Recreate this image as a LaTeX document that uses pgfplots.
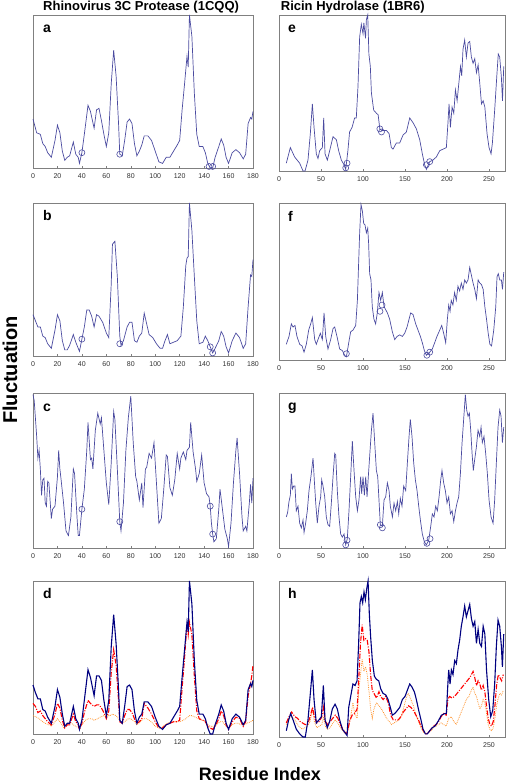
\documentclass[border=0pt]{standalone}
\usepackage{fontspec}
\setmainfont{Liberation Sans}
\usepackage{pgfplots}
\pgfplotsset{compat=1.18}
\definecolor{lineblue}{RGB}{75,75,160}
\definecolor{navyblue}{RGB}{0,0,128}
\definecolor{dotorange}{RGB}{255,150,50}
\definecolor{ticklab}{RGB}{50,50,50}
\tikzset{lab/.style={font=\fontsize{14}{16}\selectfont\bfseries, anchor=base west, inner sep=0pt}}
\begin{document}
\begin{tikzpicture}
\useasboundingbox (0,0) rectangle (506pt,784pt);
\pgfplotsset{
 panel/.style={scale only axis, anchor=south west, ymin=0, ymax=1, ytick=\empty,
   axis line style={gray, line width=0.6pt}, xtick pos=left, tick align=inside,
   major tick length=2pt, tick style={gray, line width=0.5pt},
   clip=false, xticklabel style={font=\fontsize{7}{8}\selectfont, text=ticklab, yshift=-2pt},
   /pgf/number format/assume math mode=true},
 leftp/.style={panel, xmin=0, xmax=180, width=220pt, xtick={0,20,...,180}},
 rightp/.style={panel, xmin=0, xmax=269, width=226pt, xtick={0,50,...,250}},
 trace/.style={lineblue, line width=0.7pt, no markers},
 circ/.style={only marks, mark=o, mark size=3pt, mark options={draw=lineblue, fill=white, line width=0.6pt}},
}
% ---------- a ----------
\begin{axis}[leftp, at={(33pt,616pt)}, height=153pt]
\addplot[trace] coordinates {(0,0.32)(3,0.23)(6,0.22)(8,0.16)(10,0.14)(12,0.10)(15,0.07)(18,0.18)(20,0.28)(22,0.23)(24,0.11)(26,0.05)(28,0.07)(30,0.08)(33,0.17)(35,0.09)(37,0.07)(38,0.03)(40,0.10)(42,0.22)(45,0.41)(47,0.37)(50,0.26)(52,0.38)(54,0.39)(56,0.31)(58,0.22)(60,0.14)(62,0.23)(64,0.55)(66,0.77)(68,0.60)(70,0.29)(71,0.09)(73,0.08)(75,0.18)(77,0.30)(79,0.32)(81,0.29)(83,0.16)(85,0.08)(87,0.11)(89,0.15)(91,0.21)(94,0.21)(97,0.18)(100,0.11)(103,0.04)(106,0.03)(109,0.07)(112,0.07)(115,0.11)(118,0.15)(120,0.18)(122,0.38)(124,0.55)(126,0.73)(127,0.66)(128,1.0)(130,0.86)(132,0.49)(134,0.22)(136,0.14)(139,0.14)(141,0.10)(143,0.03)(145,0.0)(147,0.0)(149,0.07)(152,0.14)(154,0.19)(156,0.15)(158,0.07)(160,0.03)(163,0.10)(166,0.12)(169,0.10)(172,0.06)(174,0.09)(176,0.29)(178,0.33)(179,0.32)(180,0.37)};
\addplot[circ] coordinates {(40,0.10)(71,0.09)(144,0.01)(147,0.01)};
\node[lab] at (rel axis cs:0.045,0.883) {a};
\end{axis}
% ---------- b ----------
\begin{axis}[leftp, at={(33pt,428pt)}, height=153pt]
\addplot[trace] coordinates {(0,0.27)(2,0.23)(4,0.19)(6,0.19)(8,0.13)(10,0.12)(12,0.08)(15,0.05)(18,0.17)(20,0.27)(22,0.23)(24,0.10)(26,0.04)(28,0.04)(30,0.07)(33,0.14)(35,0.09)(37,0.05)(38,0.03)(40,0.11)(42,0.19)(44,0.30)(46,0.30)(48,0.26)(50,0.19)(52,0.27)(54,0.26)(57,0.22)(60,0.15)(62,0.12)(64,0.47)(65,0.73)(67,0.75)(69,0.52)(71,0.13)(72,0.07)(74,0.10)(77,0.19)(79,0.22)(81,0.22)(83,0.10)(85,0.09)(87,0.13)(89,0.15)(91,0.28)(93,0.21)(95,0.14)(98,0.12)(101,0.08)(104,0.05)(106,0.05)(108,0.10)(110,0.14)(112,0.08)(115,0.09)(118,0.10)(121,0.13)(123,0.32)(125,0.59)(126,0.64)(127,0.65)(128,1.0)(130,0.82)(132,0.52)(134,0.23)(136,0.08)(139,0.09)(141,0.13)(143,0.10)(145,0.06)(147,0.02)(149,0.05)(152,0.10)(154,0.16)(156,0.13)(158,0.06)(160,0.02)(163,0.10)(166,0.15)(169,0.12)(172,0.05)(174,0.08)(176,0.32)(178,0.53)(179,0.52)(180,0.63)};
\addplot[circ] coordinates {(40,0.11)(71,0.08)(145,0.06)(147,0.02)};
\node[lab] at (rel axis cs:0.045,0.883) {b};
\end{axis}
% ---------- c ----------
\begin{axis}[leftp, at={(33pt,236pt)}, height=155pt]
\addplot[trace] coordinates {(0,0.99)(1,0.95)(3,0.72)(4,0.58)(5,0.63)(6,0.51)(7,0.34)(8,0.44)(9,0.45)(10,0.29)(11,0.27)(12,0.43)(13,0.42)(15,0.19)(16,0.25)(18,0.27)(20,0.46)(21,0.63)(22,0.51)(23,0.44)(25,0.29)(27,0.11)(29,0.08)(31,0.20)(33,0.51)(34,0.48)(36,0.20)(37,0.08)(38,0.08)(40,0.25)(42,0.38)(44,0.63)(45,0.81)(47,0.57)(48,0.58)(49,0.51)(51,0.76)(53,0.87)(55,0.80)(56,0.84)(58,0.63)(60,0.42)(62,0.28)(64,0.55)(66,0.88)(67,0.83)(69,0.51)(71,0.17)(72,0.11)(74,0.29)(76,0.63)(78,0.84)(80,0.98)(82,0.68)(84,0.46)(85,0.43)(87,0.31)(89,0.42)(90,0.26)(92,0.51)(93,0.52)(95,0.61)(97,0.58)(99,0.68)(101,0.42)(103,0.16)(105,0.19)(107,0.38)(109,0.60)(110,0.59)(112,0.39)(114,0.34)(116,0.44)(118,0.61)(120,0.51)(121,0.58)(123,0.62)(125,0.57)(126,0.63)(128,0.65)(129,0.81)(131,0.62)(133,0.51)(134,0.43)(136,0.48)(138,0.60)(140,0.42)(142,0.35)(144,0.33)(145,0.27)(146,0.16)(147,0.09)(148,0.04)(150,0.06)(152,0.25)(153,0.38)(155,0.25)(157,0.12)(159,0.06)(160,0.01)(162,0.16)(164,0.42)(166,0.63)(167,0.71)(169,0.48)(171,0.20)(172,0.11)(174,0.14)(175,0.11)(177,0.29)(178,0.41)(179,0.29)(180,0.45)};
\addplot[circ] coordinates {(40,0.25)(71,0.17)(145,0.27)(147,0.09)};
\node[lab] at (rel axis cs:0.045,0.883) {c};
\end{axis}
% ---------- d ----------
\begin{axis}[leftp, at={(33pt,50pt)}, height=153pt]
\addplot[dotorange, densely dotted, line width=0.8pt] coordinates {(0,0.12)(3,0.11)(5,0.10)(8,0.08)(10,0.07)(13,0.06)(15,0.05)(18,0.08)(20,0.10)(23,0.07)(25,0.04)(28,0.06)(30,0.08)(33,0.06)(35,0.05)(38,0.04)(40,0.06)(43,0.09)(45,0.10)(48,0.10)(50,0.09)(53,0.10)(55,0.11)(58,0.12)(60,0.12)(63,0.12)(65,0.13)(68,0.12)(70,0.10)(73,0.07)(75,0.08)(78,0.10)(80,0.10)(83,0.08)(85,0.06)(88,0.08)(90,0.10)(93,0.10)(95,0.09)(98,0.07)(100,0.05)(103,0.04)(105,0.04)(108,0.06)(110,0.07)(113,0.08)(115,0.08)(118,0.08)(120,0.08)(123,0.09)(125,0.10)(128,0.12)(130,0.12)(133,0.11)(135,0.10)(138,0.09)(140,0.09)(143,0.06)(145,0.05)(148,0.05)(150,0.06)(153,0.08)(155,0.08)(158,0.05)(160,0.04)(163,0.06)(165,0.07)(168,0.07)(170,0.06)(173,0.06)(175,0.07)(178,0.08)(180,0.09)};
\addplot[red, line width=1.1pt, dash pattern=on 5pt off 1.5pt on 1pt off 1.5pt] coordinates {(0,0.20)(2,0.18)(4,0.14)(6,0.15)(8,0.12)(10,0.10)(12,0.08)(15,0.06)(18,0.13)(20,0.20)(22,0.17)(24,0.09)(26,0.04)(28,0.06)(30,0.06)(33,0.13)(35,0.08)(37,0.06)(38,0.03)(40,0.07)(42,0.14)(45,0.22)(47,0.20)(50,0.18)(52,0.19)(54,0.19)(56,0.17)(58,0.14)(60,0.10)(62,0.15)(64,0.40)(66,0.55)(68,0.45)(70,0.22)(71,0.08)(73,0.07)(75,0.12)(77,0.16)(79,0.16)(81,0.14)(83,0.10)(85,0.07)(87,0.08)(89,0.10)(91,0.20)(94,0.17)(97,0.13)(100,0.08)(103,0.04)(106,0.04)(109,0.06)(112,0.07)(115,0.08)(118,0.08)(120,0.09)(122,0.30)(124,0.50)(126,0.72)(127,0.65)(128,0.73)(130,0.65)(132,0.38)(134,0.15)(136,0.10)(139,0.09)(141,0.08)(143,0.05)(145,0.04)(147,0.03)(149,0.05)(152,0.10)(154,0.15)(156,0.12)(158,0.06)(160,0.03)(163,0.08)(166,0.11)(169,0.10)(172,0.05)(174,0.08)(176,0.25)(178,0.33)(179,0.38)(180,0.45)};
\addplot[navyblue, line width=1.1pt] coordinates {(0,0.32)(2,0.27)(4,0.23)(6,0.23)(8,0.16)(10,0.15)(12,0.11)(15,0.07)(18,0.18)(20,0.29)(22,0.24)(24,0.13)(26,0.05)(28,0.07)(30,0.07)(33,0.18)(35,0.10)(37,0.07)(38,0.03)(40,0.09)(42,0.22)(45,0.42)(47,0.37)(50,0.25)(52,0.38)(54,0.38)(56,0.35)(58,0.22)(60,0.12)(62,0.22)(64,0.57)(66,0.78)(68,0.59)(70,0.29)(71,0.09)(73,0.07)(75,0.18)(77,0.31)(79,0.32)(81,0.29)(83,0.15)(85,0.07)(87,0.11)(89,0.13)(91,0.21)(94,0.21)(97,0.18)(100,0.11)(103,0.05)(106,0.03)(109,0.06)(112,0.07)(115,0.11)(118,0.15)(120,0.18)(122,0.37)(124,0.55)(126,0.73)(127,0.67)(128,1.0)(130,0.85)(132,0.48)(134,0.22)(136,0.13)(139,0.13)(141,0.10)(143,0.04)(145,0.0)(147,0.0)(149,0.06)(152,0.13)(154,0.19)(156,0.15)(158,0.07)(160,0.03)(163,0.10)(166,0.13)(169,0.11)(172,0.06)(174,0.09)(176,0.29)(178,0.33)(179,0.31)(180,0.35)};
\node[lab] at (rel axis cs:0.045,0.883) {d};
\end{axis}
% ---------- e ----------
\begin{axis}[rightp, at={(279pt,613pt)}, height=156pt]
\addplot[trace] coordinates {(8.7,0.05)(13.5,0.15)(18.6,0.09)(24.6,0.05)(28.6,0.0)(31,0.0)(34.5,0.07)(37.3,0.24)(39.7,0.43)(41.7,0.28)(44.4,0.11)(46.4,0.08)(48.4,0.13)(51.6,0.15)(53.2,0.34)(54.8,0.11)(57.5,0.07)(60.3,0.13)(64.3,0.22)(68.3,0.20)(71,0.13)(74.2,0.07)(77.4,0.04)(79.4,0.01)(82,0.13)(84,0.25)(87,0.28)(90,0.34)(92,0.34)(94,0.54)(96,0.86)(98,0.94)(100,0.88)(101,0.95)(103,0.85)(104,0.97)(105.6,1.0)(107,0.75)(108.7,0.67)(110,0.50)(112.7,0.39)(116,0.37)(118,0.36)(120,0.27)(122.2,0.26)(124.6,0.26)(127.8,0.26)(131,0.24)(133.7,0.15)(135.7,0.14)(139.7,0.18)(143.7,0.18)(147.6,0.23)(151.6,0.25)(155.6,0.34)(159.5,0.31)(163.5,0.27)(167.5,0.20)(170.6,0.11)(173.4,0.04)(175.4,0.01)(179.4,0.06)(183.3,0.07)(187.3,0.09)(191.3,0.13)(195.2,0.14)(199.2,0.15)(201,0.30)(202.4,0.43)(204,0.28)(206,0.41)(208,0.37)(210,0.52)(212,0.45)(214,0.56)(216,0.67)(217.5,0.61)(219,0.78)(221,0.84)(223,0.73)(225,0.82)(227,0.83)(229,0.73)(231,0.69)(233,0.72)(235,0.63)(237,0.68)(239,0.56)(241,0.43)(243,0.45)(245,0.41)(247.6,0.24)(250,0.15)(252.4,0.11)(254,0.18)(256.7,0.39)(259.5,0.63)(261,0.75)(262.7,0.73)(264.7,0.60)(266,0.45)(267.5,0.67)};
\addplot[circ] coordinates {(79.4,0.02)(81,0.05)(120,0.27)(122,0.25)(175.4,0.04)(179.4,0.06)};
\node[lab] at (rel axis cs:0.04,0.885) {e};
\end{axis}
% ---------- f ----------
\begin{axis}[rightp, at={(279pt,424pt)}, height=157pt]
\addplot[trace] coordinates {(8.7,0.10)(11.9,0.15)(14.7,0.23)(16.7,0.21)(19,0.22)(21.4,0.15)(24.6,0.10)(27.4,0.09)(29.8,0.05)(32.5,0.10)(35.3,0.19)(37.7,0.23)(39.7,0.27)(42.5,0.13)(44.4,0.10)(46.4,0.13)(49.2,0.17)(51.6,0.13)(53.6,0.30)(55.6,0.15)(58.3,0.07)(61.5,0.13)(64.3,0.20)(66.3,0.21)(69,0.15)(72.2,0.07)(75.4,0.06)(78.2,0.03)(80.2,0.02)(83,0.11)(85.3,0.18)(88,0.19)(91.3,0.22)(93.3,0.38)(94.8,0.62)(96,0.81)(97.6,0.99)(99.2,0.95)(100.8,0.87)(102.4,0.86)(104,0.81)(105.6,0.84)(106.7,0.74)(107.9,0.55)(109.5,0.51)(111,0.34)(113,0.26)(115,0.23)(117,0.30)(119,0.43)(121,0.38)(123,0.43)(125,0.34)(127,0.32)(129,0.30)(131.7,0.26)(134.9,0.18)(137.7,0.13)(140.5,0.15)(143.7,0.16)(146.8,0.15)(149.6,0.17)(152.4,0.21)(154.8,0.26)(156.7,0.30)(159.5,0.29)(162.7,0.23)(165.5,0.19)(168.3,0.15)(170.6,0.11)(173,0.06)(175.4,0.03)(179.4,0.05)(182.5,0.07)(185.3,0.11)(188,0.15)(191.3,0.19)(193.7,0.22)(196,0.17)(198.4,0.11)(200.4,0.26)(202,0.35)(203.6,0.31)(205,0.38)(207,0.35)(209,0.43)(211,0.38)(213,0.47)(215,0.44)(217,0.49)(219,0.45)(221,0.51)(223,0.49)(225,0.51)(227,0.59)(229,0.54)(231,0.49)(233,0.45)(235,0.39)(237,0.51)(239,0.49)(241,0.48)(243,0.45)(245,0.34)(247,0.26)(249,0.17)(251,0.10)(253,0.09)(255.6,0.19)(258,0.34)(259.5,0.53)(261,0.55)(262.7,0.51)(264.7,0.51)(266,0.45)(267.5,0.56)};
\addplot[circ] coordinates {(80.2,0.04)(120.2,0.31)(122.6,0.35)(176,0.03)(179.4,0.05)};
\node[lab] at (rel axis cs:0.04,0.885) {f};
\end{axis}
% ---------- g ----------
\begin{axis}[rightp, at={(279pt,236pt)}, height=155pt]
\addplot[trace] coordinates {(8.7,0.20)(10.3,0.23)(11.9,0.30)(13.5,0.34)(14.7,0.48)(15.9,0.38)(17.5,0.40)(19,0.40)(20.6,0.24)(22.6,0.27)(24.6,0.16)(26.6,0.13)(28.6,0.18)(29.8,0.10)(31.7,0.16)(33.7,0.24)(35.7,0.37)(38,0.46)(40.5,0.58)(42,0.44)(43.7,0.29)(45.6,0.16)(47.6,0.27)(49.6,0.33)(50.8,0.44)(52.4,0.40)(54.4,0.33)(56.3,0.20)(58.3,0.15)(60.3,0.14)(62.3,0.29)(64.3,0.46)(66.3,0.61)(67.5,0.60)(69.4,0.37)(71.4,0.20)(73.4,0.09)(75.4,0.07)(77.4,0.09)(79.4,0.02)(81.3,0.06)(83.3,0.24)(85.3,0.46)(87.3,0.69)(89.3,0.50)(91.3,0.33)(93.3,0.24)(95.2,0.31)(97.2,0.46)(98.4,0.35)(100,0.46)(101.6,0.34)(103.2,0.46)(104.8,0.33)(106.3,0.46)(107.9,0.59)(110,0.76)(111.9,0.87)(113.9,0.68)(115.9,0.50)(117.5,0.46)(119,0.31)(120.6,0.15)(123,0.14)(125,0.31)(127,0.33)(129,0.42)(131,0.37)(132.5,0.27)(135,0.20)(136.9,0.29)(138.9,0.24)(140.9,0.30)(142.5,0.22)(144.4,0.32)(146.4,0.27)(148.4,0.40)(150.8,0.37)(152.8,0.55)(154.8,0.72)(156.3,0.83)(158.3,0.72)(160.3,0.55)(162.3,0.44)(164.3,0.37)(166.3,0.27)(168.3,0.18)(170.6,0.09)(173,0.04)(175.4,0.02)(178.2,0.05)(180.6,0.14)(182.5,0.22)(184.5,0.20)(186.5,0.27)(188.5,0.24)(190.5,0.33)(192.5,0.44)(194,0.50)(196,0.42)(198,0.37)(200,0.29)(202,0.33)(204,0.22)(206,0.24)(208,0.17)(210,0.24)(211.9,0.29)(213.9,0.33)(215.9,0.48)(217.9,0.68)(219.8,0.83)(221.8,0.99)(223.4,0.89)(225,0.85)(226.6,0.87)(228.2,0.76)(229.8,0.61)(231.3,0.50)(232.9,0.57)(234.9,0.65)(236.9,0.76)(238.9,0.72)(240.5,0.78)(242,0.68)(244,0.72)(246,0.61)(248,0.48)(250,0.31)(252.4,0.20)(254.8,0.16)(256.7,0.31)(258.7,0.55)(260.7,0.78)(262.7,0.89)(264.3,0.85)(265.9,0.68)(267.5,0.78)};
\addplot[circ] coordinates {(79.4,0.02)(81,0.05)(120.6,0.15)(123,0.13)(176,0.03)(179.8,0.06)};
\node[lab] at (rel axis cs:0.04,0.885) {g};
\end{axis}
% ---------- h ----------
\begin{axis}[rightp, at={(279pt,47pt)}, height=156pt]
\addplot[dotorange, densely dotted, line width=0.8pt] coordinates {(8.7,0.08)(12,0.12)(15,0.13)(19,0.11)(22,0.08)(25,0.06)(28,0.05)(31,0.06)(34,0.07)(37,0.10)(40,0.18)(42,0.10)(45,0.06)(48,0.07)(51,0.08)(53,0.13)(55,0.07)(58,0.05)(61,0.06)(64,0.09)(67,0.11)(70,0.09)(73,0.06)(76,0.04)(79,0.02)(82,0.04)(85,0.12)(88,0.22)(90,0.15)(93,0.12)(95,0.30)(97,0.40)(99,0.50)(101,0.42)(103,0.45)(105,0.40)(107,0.30)(109,0.18)(111,0.12)(113,0.18)(116,0.22)(119,0.20)(122,0.18)(125,0.15)(128,0.12)(131,0.10)(134,0.08)(137,0.09)(140,0.10)(143,0.11)(146,0.14)(149,0.20)(152,0.26)(154,0.28)(157,0.24)(160,0.20)(163,0.14)(166,0.10)(169,0.06)(172,0.03)(175,0.02)(178,0.03)(181,0.04)(184,0.06)(187,0.07)(190,0.08)(193,0.09)(196,0.08)(199,0.07)(202,0.12)(205,0.13)(208,0.10)(211,0.08)(214,0.12)(217,0.16)(220,0.20)(223,0.24)(226,0.26)(229,0.30)(231,0.32)(233,0.28)(235,0.26)(237,0.22)(239,0.18)(241,0.20)(243,0.24)(245,0.22)(247,0.15)(249,0.08)(251,0.05)(253,0.04)(255,0.06)(257,0.12)(259,0.20)(261,0.25)(263,0.28)(265,0.27)(267,0.30)};
\addplot[red, line width=1.1pt, dash pattern=on 5pt off 1.5pt on 1pt off 1.5pt] coordinates {(8.7,0.09)(12,0.13)(15,0.16)(19,0.13)(22,0.12)(25,0.10)(28,0.09)(31,0.08)(34,0.08)(37,0.13)(40,0.19)(42,0.13)(45,0.09)(48,0.10)(51,0.13)(53,0.19)(55,0.10)(58,0.08)(61,0.10)(64,0.12)(67,0.14)(70,0.12)(73,0.08)(76,0.05)(79,0.03)(81,0.02)(84,0.10)(87,0.14)(90,0.15)(93,0.18)(95,0.38)(97,0.60)(99,0.72)(101,0.62)(103,0.63)(105,0.62)(107,0.55)(109,0.40)(111,0.30)(113,0.28)(116,0.25)(119,0.29)(121,0.26)(124,0.24)(127,0.26)(130,0.22)(133,0.14)(136,0.11)(139,0.11)(142,0.11)(145,0.13)(148,0.16)(151,0.18)(154,0.20)(157,0.19)(160,0.17)(163,0.14)(166,0.11)(169,0.07)(172,0.04)(175,0.02)(178,0.03)(181,0.05)(184,0.07)(187,0.08)(190,0.10)(193,0.13)(196,0.15)(199,0.14)(201,0.24)(203,0.26)(206,0.25)(209,0.26)(212,0.28)(215,0.30)(218,0.32)(221,0.34)(224,0.36)(227,0.38)(229,0.40)(231,0.42)(233,0.38)(235,0.33)(237,0.36)(239,0.34)(241,0.30)(243,0.33)(245,0.29)(247,0.20)(249,0.12)(251,0.08)(253,0.07)(255,0.10)(257,0.20)(259,0.33)(261,0.40)(263,0.38)(265,0.36)(267,0.40)};
\addplot[navyblue, line width=1.1pt] coordinates {(8.7,0.04)(11.5,0.11)(13.9,0.15)(16.7,0.11)(20.6,0.05)(24.6,0.02)(28.6,0.0)(31.3,0.0)(34.5,0.11)(37.3,0.28)(39.7,0.43)(41.7,0.24)(44.4,0.09)(47.6,0.11)(50.4,0.13)(52.8,0.33)(54.8,0.11)(57.5,0.06)(60.3,0.10)(63.5,0.18)(66.7,0.21)(69.4,0.18)(72.2,0.11)(75.4,0.05)(78.2,0.03)(81,0.01)(83,0.19)(85.3,0.26)(88,0.34)(90.5,0.33)(92.9,0.36)(94.8,0.60)(96.4,0.86)(98,0.90)(99.6,0.86)(101.2,0.93)(102.8,0.88)(104.4,0.95)(106,1.0)(107.5,0.79)(109.1,0.64)(111.1,0.49)(113.5,0.39)(115.9,0.37)(118.7,0.36)(121,0.31)(123.8,0.28)(127,0.27)(129.8,0.24)(132.5,0.19)(134.9,0.14)(137.7,0.15)(140.9,0.17)(143.7,0.19)(146.8,0.24)(150,0.26)(152.8,0.30)(155.6,0.34)(158.3,0.32)(161.1,0.29)(163.5,0.24)(166.3,0.17)(169,0.11)(171.4,0.05)(174.2,0.02)(176.6,0.02)(179.4,0.04)(182.5,0.06)(185.7,0.07)(189.3,0.10)(193.3,0.14)(197.2,0.15)(199.2,0.15)(200.8,0.32)(202,0.43)(203.6,0.34)(205.2,0.43)(207.1,0.40)(209.1,0.49)(211.1,0.47)(213.1,0.56)(215,0.62)(217,0.71)(219,0.77)(221,0.84)(223,0.77)(225,0.81)(227,0.85)(229,0.76)(231,0.71)(233,0.74)(235,0.60)(237,0.69)(239,0.60)(241,0.58)(243,0.71)(245,0.66)(247,0.43)(249.6,0.24)(252,0.13)(254.4,0.17)(256.7,0.34)(258.7,0.58)(260.7,0.75)(262.7,0.71)(264.7,0.58)(265.9,0.45)(267.5,0.66)};
\node[lab] at (rel axis cs:0.04,0.885) {h};
\end{axis}
% ---------- titles ----------
\node[anchor=base west, inner sep=0pt, font=\fontsize{13}{15}\selectfont\bfseries] at (43pt,773pt) {Rhinovirus 3C Protease (1CQQ)};
\node[anchor=base west, inner sep=0pt, font=\fontsize{13}{15}\selectfont\bfseries] at (280.7pt,773pt) {Ricin Hydrolase (1BR6)};
\node[rotate=90, inner sep=0pt, font=\fontsize{20}{22}\selectfont\bfseries] at (10pt,414pt) {Fluctuation};
\node[anchor=base, inner sep=0pt, font=\fontsize{18}{20}\selectfont\bfseries] at (260pt,3.5pt) {Residue Index};
\end{tikzpicture}
\end{document}
